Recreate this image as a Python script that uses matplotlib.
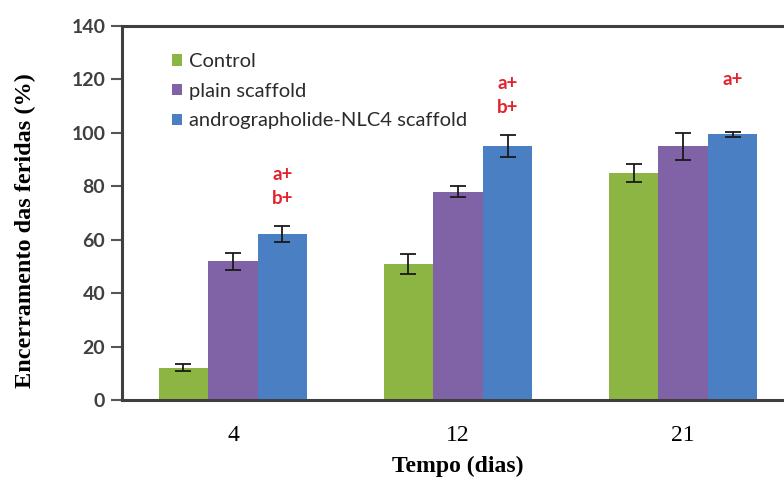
import matplotlib
matplotlib.use("Agg")
import matplotlib.pyplot as plt
import numpy as np
from matplotlib.patches import Patch

# Data
days = ["4", "12", "21"]
groups = ["Control", "plain scaffold", "andrographolide-NLC4 scaffold"]
control = [12, 51, 85]
plain = [52, 78, 95]
nlc4 = [62, 95, 99.5]
control_err = [1.3, 3.8, 3.4]
plain_err = [3.2, 2.0, 5.0]
nlc4_err = [3.0, 4.2, 1.0]
signif = ["a+\nb+", "a+\nb+", "a+\n "]

colors = ["#8DB543", "#8063A6", "#4A80C3"]

fig = plt.figure(figsize=(7.84, 4.78), dpi=100)
# axes runs a bit past the right edge, like the cropped original
ax = fig.add_axes([122 / 784, 78 / 478, 672 / 784, 374 / 478])

x = np.arange(len(days))
w = 0.22
series = [control, plain, nlc4]
errs = [control_err, plain_err, nlc4_err]
for i, (vals, err) in enumerate(zip(series, errs)):
    ax.bar(x + (i - 1) * w, vals, w, color=colors[i], edgecolor="none",
           yerr=err, capsize=6,
           error_kw=dict(ecolor="#1a1a1a", elinewidth=1.3, capthick=1.3),
           zorder=2)

# significance letters above the NLC4 bars
for xi, v, e, s in zip(x, nlc4, nlc4_err, signif):
    ax.annotate(s, (xi + w, v + e), xytext=(0, 14), textcoords="offset points",
                ha="center", va="bottom", color="#E2232E", fontsize=13.5,
                fontweight="bold", family="Lato", linespacing=1.5)

ax.set_xlim(-0.493, 2.493)
ax.set_ylim(0, 140)
ax.set_yticks(range(0, 141, 20))
ax.set_xticks(x)
ax.set_xticklabels(days, family="Liberation Serif", fontsize=17)
ax.tick_params(axis="x", length=0, pad=18)
ax.tick_params(axis="y", length=8, width=1.5, color="#555555", pad=4,
               labelsize=14, labelcolor="#404040")
for lab in ax.get_yticklabels():
    lab.set_family("Lato")
    lab.set_fontweight("bold")

for sp in ["left", "top", "bottom", "right"]:
    ax.spines[sp].set_linewidth(2.2)
    ax.spines[sp].set_color("#3f3f3f")

ax.set_ylabel("Encerramento das feridas (%)", family="Liberation Serif",
              fontweight="bold", fontsize=17.5)
ax.yaxis.set_label_coords(-(122 - 25) / 672, (400 - 231) / 374)
ax.yaxis.label.set_va("center")
ax.set_xlabel("Tempo (dias)", family="Liberation Serif", fontweight="bold",
              fontsize=17)
ax.xaxis.set_label_coords((458 - 122) / 672, -(466 - 400) / 374)
ax.xaxis.label.set_va("center")

handles = [Patch(facecolor=c, edgecolor="none") for c in colors]
leg = ax.legend(handles, groups, loc="upper left", frameon=False,
                bbox_to_anchor=(42 / 672, 1 - 19 / 374),
                prop={"family": "Lato", "size": 14.5},
                handlelength=0.5, handleheight=0.5, handletextpad=0.35,
                labelspacing=0.63, borderaxespad=0)
for t in leg.get_texts():
    t.set_color("#2b2b2b")

fig.savefig("out.png", dpi=100)
